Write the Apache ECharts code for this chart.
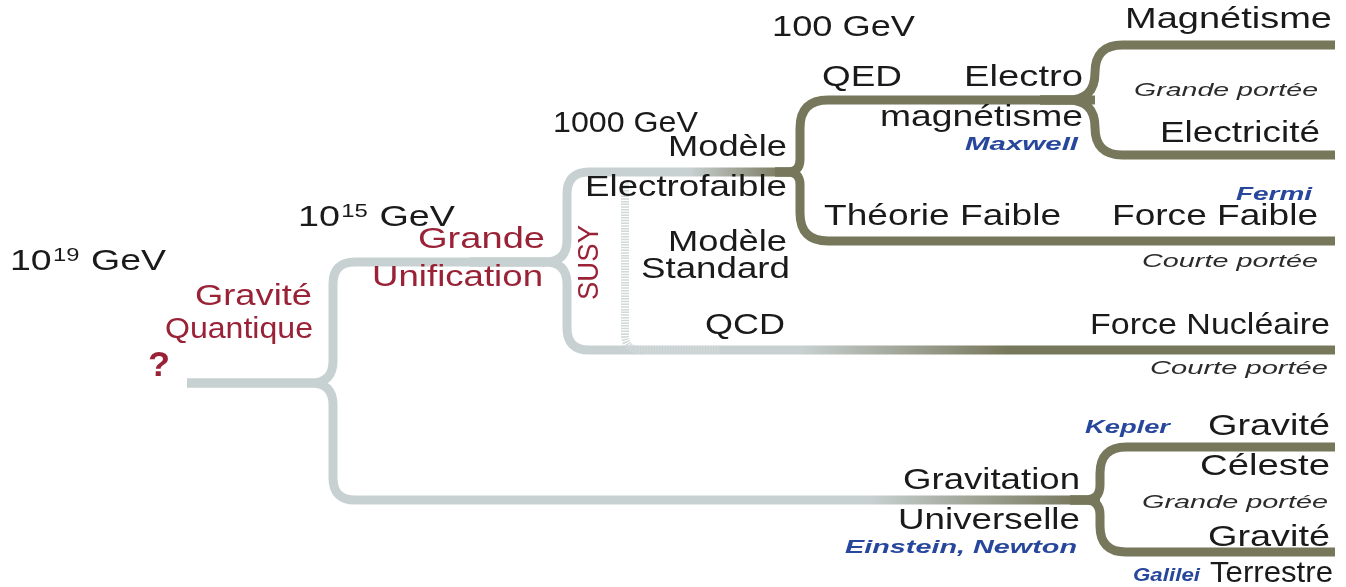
<!DOCTYPE html>
<html><head><meta charset="utf-8">
<script src="https://cdn.jsdelivr.net/npm/echarts@6/dist/echarts.min.js"></script>
<style>html,body{margin:0;padding:0;background:#fff}#c{width:1346px;height:587px}</style>
</head><body><div id="c"></div>
<script>
// ---------- DATA (diagram units = picture pixels, y downwards) ----------
// Branch: [xStart, yStart, xTurn, yEnd, xEnd] : horizontal, vertical at xTurn, horizontal
const greyBranches = [
  [187, 383, 333, 262, 545],    // Gravité quantique -> Grande Unification
  [187, 383, 333, 500, 1100],   // Gravité quantique -> Gravitation universelle
  [470, 262, 567, 172, 800],    // SUSY -> Modèle électrofaible
  [470, 262, 567, 350, 1335]    // SUSY -> QCD / Force nucléaire
];
const dottedBranch = [[625, 182], [625, 350], [720, 350]];
const oliveBranches = [
  [775, 172, 800, 100, 1095],   // Electrofaible -> Electromagnétisme
  [775, 172, 800, 241, 1335],   // Electrofaible -> Théorie faible
  [1040, 100, 1095, 45, 1335],  // -> Magnétisme
  [1040, 100, 1095, 155, 1335], // -> Electricité
  [1070, 500, 1100, 447, 1335], // Gravitation -> Gravité céleste
  [1070, 500, 1100, 552, 1335]  // Gravitation -> Gravité terrestre
];

// energy scale labels
const energyBase  = ['10', '10', '1000', '100'];
const energyExp   = ['19', '15', '', ''];
const energyLeft  = [10, 298, 553, 772];
const energyRight = [166, 455, 698, 915];
const energyY     = [262, 218, 124, 28];

// [text, xLeft, xRight, yCenter]
const redLabels = [
  ['Gravité', 195, 312, 297],
  ['Quantique', 165, 313, 330],
  ['Grande', 418, 545, 240],
  ['Unification', 372, 543, 278]
];
const questionLabel = ['?', 148, 170, 366];
const susyLabel = ['SUSY', 590, 225, 300]; // text, xCenter, yTop, yBottom

const blackLabels = [
  ['Modèle', 668, 787, 148],
  ['Electrofaible', 585, 787, 188],
  ['Modèle', 668, 787, 243],
  ['Standard', 641, 790, 270],
  ['QCD', 705, 785, 326],
  ['QED', 822, 902, 78],
  ['Electro', 964, 1083, 78],
  ['magnétisme', 880, 1083, 118],
  ['Magnétisme', 1125, 1332, 20],
  ['Electricité', 1160, 1320, 134],
  ['Théorie Faible', 824, 1061, 217],
  ['Force Faible', 1112, 1318, 217],
  ['Force Nucléaire', 1090, 1330, 326],
  ['Gravité', 1208, 1330, 427],
  ['Céleste', 1200, 1330, 467],
  ['Gravitation', 903, 1080, 481],
  ['Universelle', 898, 1080, 521],
  ['Gravité', 1208, 1330, 538],
  ['Terrestre', 1210, 1333, 574]
];
const noteLabels = [
  ['Grande portée', 1134, 1318, 91],
  ['Courte portée', 1142, 1318, 262],
  ['Courte portée', 1150, 1328, 369],
  ['Grande portée', 1142, 1328, 503]
];
const nameLabels = [
  ['Maxwell', 965, 1078, 145],
  ['Fermi', 1236, 1312, 195],
  ['Kepler', 1085, 1170, 428],
  ['Einstein, Newton', 845, 1077, 548],
  ['Galilei', 1133, 1200, 576]
];

// ---------- STYLE ----------
const FAMILY = "'Liberation Sans', Arial, sans-serif";
const GREY = '#c8d1d1', OLIVE = '#77775b';
const greyFade = [null, [870, 1080], [690, 785], [800, 1010]];
const LW = 9;

const mctx = document.createElement('canvas').getContext('2d');
function measure(text, st) {
  mctx.font = `${st.fontStyle || 'normal'} ${st.fontWeight || 'normal'} ${st.fontSize}px ${FAMILY}`;
  return mctx.measureText(text).width;
}

function roundedPath(pts, R) {
  let d = `M${pts[0][0]} ${pts[0][1]}`;
  for (let i = 1; i < pts.length - 1; i++) {
    const a = pts[i - 1], p = pts[i], c = pts[i + 1];
    const l1 = Math.hypot(p[0] - a[0], p[1] - a[1]);
    const l2 = Math.hypot(c[0] - p[0], c[1] - p[1]);
    const r = Math.min(R, l1 / 2, l2 / 2);
    const u1 = [(p[0] - a[0]) / l1, (p[1] - a[1]) / l1];
    const u2 = [(c[0] - p[0]) / l2, (c[1] - p[1]) / l2];
    d += ` L${p[0] - u1[0] * r} ${p[1] - u1[1] * r} Q${p[0]} ${p[1]} ${p[0] + u2[0] * r} ${p[1] + u2[1] * r}`;
  }
  const e = pts[pts.length - 1];
  d += ` L${e[0]} ${e[1]}`;
  return d;
}
function branchPts(api, b) {
  return [api.coord([b[0], b[1]]), api.coord([b[2], b[1]]), api.coord([b[2], b[3]]), api.coord([b[4], b[3]])];
}

function spanText(api, item, st) {
  const p0 = api.coord([item[1], item[3]]), p1 = api.coord([item[2], item[3]]);
  const w = measure(item[0], st);
  return {
    type: 'text', x: p1[0], y: p0[1], scaleX: (p1[0] - p0[0]) / w,
    style: {
      text: item[0], fill: st.color, fontSize: st.fontSize, fontFamily: FAMILY,
      fontStyle: st.fontStyle || 'normal', fontWeight: st.fontWeight || 'normal',
      align: 'right', verticalAlign: 'middle'
    }
  };
}

const ST_BLACK = { color: '#1a1a1a', fontSize: 30 };
const ST_RED = { color: '#9a2236', fontSize: 30 };
const ST_NOTE = { color: '#2b2b2b', fontSize: 18, fontStyle: 'italic' };
const ST_NAME = { color: '#27479c', fontSize: 19, fontStyle: 'italic', fontWeight: 'bold' };
const ST_Q = { color: '#9a2236', fontSize: 35, fontWeight: 'bold' };
const ST_EXP = { color: '#1a1a1a', fontSize: 19 };

function textSeries(list, st, z) {
  return {
    type: 'custom', coordinateSystem: 'cartesian2d', clip: false, silent: true, z,
    data: list.map(l => [l[1], l[3]]),
    renderItem: (params, api) => spanText(api, list[params.dataIndex], st)
  };
}

const series = [];
// grey branches
series.push({
  type: 'custom', coordinateSystem: 'cartesian2d', clip: false, silent: true, z: 1,
  data: greyBranches.map(b => [b[0], b[1]]),
  renderItem(params, api) {
    const i = params.dataIndex, b = greyBranches[i];
    const pts = branchPts(api, b);
    let stroke = GREY;
    const f = greyFade[i];
    if (f) {
      const x0 = api.coord([f[0], 0])[0], x1 = api.coord([f[1], 0])[0];
      stroke = new echarts.graphic.LinearGradient(x0, 0, x1, 0, [{ offset: 0, color: GREY }, { offset: 1, color: OLIVE }], true);
    }
    return { type: 'path', shape: { pathData: roundedPath(pts, 22) }, style: { stroke, lineWidth: LW, fill: 'none', lineCap: 'butt', lineJoin: 'round' } };
  }
});
// dotted inner SUSY line
series.push({
  type: 'custom', coordinateSystem: 'cartesian2d', clip: false, silent: true, z: 1,
  data: [dottedBranch[0]],
  renderItem(params, api) {
    const pts = dottedBranch.map(p => api.coord(p));
    return { type: 'path', shape: { pathData: roundedPath(pts, 16) }, style: { stroke: '#d2d8d8', lineWidth: 8, fill: 'none', lineDash: [1.5, 1.2] } };
  }
});
// olive branches
series.push({
  type: 'custom', coordinateSystem: 'cartesian2d', clip: false, silent: true, z: 2,
  data: oliveBranches.map(b => [b[0], b[1]]),
  renderItem(params, api) {
    const pts = branchPts(api, oliveBranches[params.dataIndex]);
    return { type: 'path', shape: { pathData: roundedPath(pts, 28) }, style: { stroke: OLIVE, lineWidth: LW, fill: 'none', lineCap: 'butt', lineJoin: 'round' } };
  }
});
// energy labels
series.push({
  type: 'custom', coordinateSystem: 'cartesian2d', clip: false, silent: true, z: 5,
  data: energyBase.map((b, i) => [energyLeft[i], energyY[i]]),
  renderItem(params, api) {
    const i = params.dataIndex;
    const p0 = api.coord([energyLeft[i], energyY[i]]), p1 = api.coord([energyRight[i], energyY[i]]);
    const base = energyBase[i], exp = energyExp[i], unit = ' GeV';
    const wb = measure(base, ST_BLACK), we = exp ? measure(exp, ST_EXP) + 2 : 0, wu = measure(unit, ST_BLACK);
    const s = (p1[0] - p0[0]) / (wb + we + wu);
    const mk = (t, x, y, st) => ({ type: 'text', x, y, style: { text: t, fill: st.color, fontSize: st.fontSize, fontFamily: FAMILY, align: 'left', verticalAlign: 'middle' } });
    const children = [mk(base, 0, 0, ST_BLACK)];
    if (exp) children.push(mk(exp, wb + 1, -6, ST_EXP));
    children.push(mk(unit, wb + we, 0, ST_BLACK));
    return { type: 'group', x: p0[0], y: p0[1], scaleX: s, children };
  }
});
series.push(textSeries(redLabels, ST_RED, 5));
series.push(textSeries([questionLabel], ST_Q, 5));
series.push(textSeries(blackLabels, ST_BLACK, 5));
series.push(textSeries(noteLabels, ST_NOTE, 5));
series.push(textSeries(nameLabels, ST_NAME, 5));
// SUSY (vertical)
series.push({
  type: 'custom', coordinateSystem: 'cartesian2d', clip: false, silent: true, z: 5,
  data: [[susyLabel[1], susyLabel[2]]],
  renderItem(params, api) {
    const a = api.coord([susyLabel[1], susyLabel[2]]), b = api.coord([susyLabel[1], susyLabel[3]]);
    const w = measure(susyLabel[0], ST_RED);
    return {
      type: 'text', x: a[0], y: (a[1] + b[1]) / 2, rotation: Math.PI / 2, scaleX: Math.abs(b[1] - a[1]) / w,
      style: { text: susyLabel[0], fill: ST_RED.color, fontSize: ST_RED.fontSize, fontFamily: FAMILY, align: 'center', verticalAlign: 'middle' }
    };
  }
});

const chart = echarts.init(document.getElementById('c'));
chart.setOption({
  animation: false,
  backgroundColor: '#ffffff',
  grid: { left: 0, right: 0, top: 0, bottom: 0 },
  xAxis: { type: 'value', min: 0, max: 1346, show: false },
  yAxis: { type: 'value', min: 0, max: 587, inverse: true, show: false },
  series
});
</script>
</body></html>
